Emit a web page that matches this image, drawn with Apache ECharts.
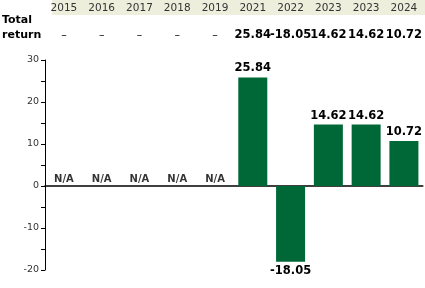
<!DOCTYPE html>
<html><head><meta charset="utf-8">
<script src="https://cdn.jsdelivr.net/npm/echarts@6/dist/echarts.min.js"></script>
<style>html,body{margin:0;padding:0;background:#fff}#c{width:425px;height:288px}</style>
</head><body><div id="c"></div>
<script>
var years = ['2015','2016','2017','2018','2019','2021','2022','2023','2023','2024'];
var returns = [null, null, null, null, null, 25.84, -18.05, 14.62, 14.62, 10.72];
var rowLabel = 'Total\nreturn';
var yTicks = {min: -20, max: 30, interval: 10};

var chart = echarts.init(document.getElementById('c'), null, {renderer: 'canvas'});
var FONT = 'DejaVu Sans';
var naData = returns.map(function (v) { return v === null ? 0 : null; });
var valueLabels = returns.map(function (v) { return v === null ? '\u2013' : v.toFixed(2); });

chart.setOption({
  animation: false,
  grid: {left: 45, right: 0, top: 60, bottom: 18, containLabel: false},
  graphic: [
    {type: 'rect', shape: {x: 52, y: 0, width: 373, height: 15}, style: {fill: '#eeeedd'}, z: -1},
    {type: 'text', left: 2, top: 13, style: {text: rowLabel, font: 'bold 11px ' + FONT, fill: '#000', lineHeight: 15}}
  ],
  xAxis: [
    {type: 'category', data: years, position: 'bottom',
     axisLine: {onZero: true, lineStyle: {color: '#000', width: 1.5}},
     axisTick: {show: false}, axisLabel: {show: false}, splitLine: {show: false}},
    {type: 'category', data: years, position: 'top', gridIndex: 0,
     axisLine: {show: false}, axisTick: {show: false},
     axisLabel: {margin: 46, color: '#333', fontFamily: FONT, fontSize: 10.5, interval: 0}},
    {type: 'category', data: valueLabels, position: 'top', gridIndex: 0,
     axisLine: {show: false}, axisTick: {show: false},
     axisLabel: {margin: 19, color: '#000', fontFamily: FONT, fontSize: 11.5, fontWeight: 'bold', interval: 0,
       formatter: function (v) { return v === '\u2013' ? '{n|' + v + '}' : v; },
       rich: {n: {fontWeight: 'normal', fontSize: 11, fontFamily: FONT, color: '#000'}}}}
  ],
  yAxis: {
    type: 'value', min: yTicks.min, max: yTicks.max, interval: yTicks.interval,
    axisLine: {show: true, lineStyle: {color: '#000', width: 1}},
    axisTick: {show: true, length: 4, lineStyle: {color: '#000'}},
    minorTick: {show: true, splitNumber: 2, length: 4, lineStyle: {color: '#000'}},
    splitLine: {show: false},
    axisLabel: {color: '#333', fontFamily: FONT, fontSize: 9.5, margin: 6}
  },
  series: [
    {type: 'bar', data: returns, barWidth: 29, itemStyle: {color: '#006837'},
     label: {show: true, position: 'outside', color: '#000', fontFamily: FONT, fontSize: 11.5, fontWeight: 'bold',
       distance: 3, formatter: function (p) { return p.value.toFixed(2); }}},
    {type: 'scatter', data: naData, symbolSize: 0, silent: true,
     label: {show: true, position: 'top', distance: 2, formatter: 'N/A', color: '#000', fontFamily: FONT, fontSize: 10, fontWeight: 'bold'}}
  ]
});
</script></body></html>
